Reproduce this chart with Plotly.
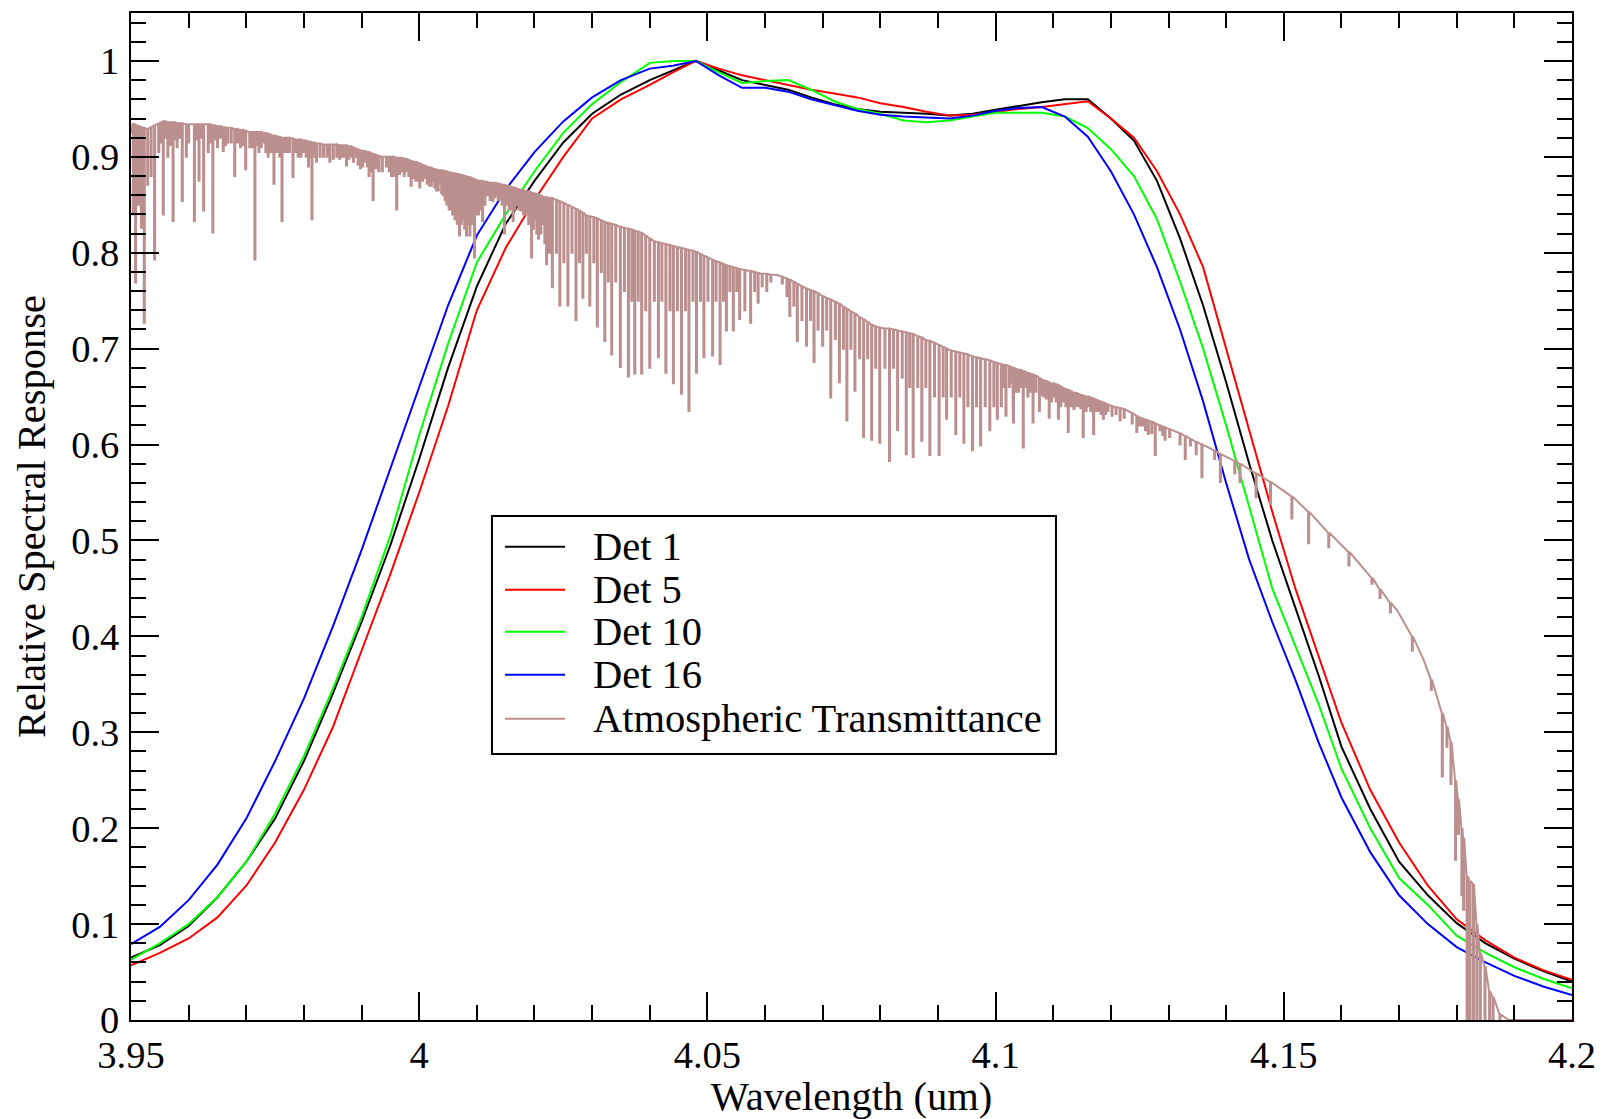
import plotly.graph_objects as go

# ---------------------------------------------------------------------------
# Detector relative spectral response curves (wavelength in um)
# ---------------------------------------------------------------------------
wavelength = [
    3.950, 3.955, 3.960, 3.965, 3.970, 3.975, 3.980, 3.985, 3.990, 3.995,
    4.000, 4.005, 4.010, 4.015, 4.020, 4.025, 4.030, 4.035, 4.040, 4.044,
    4.048, 4.052, 4.056, 4.060, 4.064, 4.068, 4.072, 4.076, 4.080, 4.084,
    4.088, 4.092, 4.096, 4.100, 4.104, 4.108, 4.112, 4.116, 4.120, 4.124,
    4.128, 4.132, 4.136, 4.140, 4.144, 4.148, 4.152, 4.156, 4.160, 4.165,
    4.170, 4.175, 4.180, 4.185, 4.190, 4.195, 4.200,
]

det1 = [
    0.065, 0.078, 0.098, 0.128, 0.165, 0.210, 0.270, 0.340, 0.415, 0.495,
    0.585, 0.680, 0.765, 0.830, 0.875, 0.915, 0.945, 0.965, 0.980, 0.990,
    1.000, 0.990, 0.980, 0.975, 0.970, 0.962, 0.955, 0.950, 0.947, 0.946,
    0.945, 0.943, 0.945, 0.949, 0.953, 0.957, 0.960, 0.960, 0.940, 0.917,
    0.875, 0.815, 0.745, 0.665, 0.580, 0.500, 0.430, 0.360, 0.285, 0.220,
    0.165, 0.130, 0.101, 0.080, 0.064, 0.051, 0.040,
]

det5 = [
    0.057, 0.070, 0.085, 0.107, 0.140, 0.185, 0.240, 0.305, 0.385, 0.465,
    0.550, 0.640, 0.740, 0.805, 0.855, 0.900, 0.940, 0.960, 0.975, 0.988,
    1.000, 0.992, 0.985, 0.980, 0.975, 0.970, 0.966, 0.962, 0.956, 0.952,
    0.947, 0.943, 0.944, 0.947, 0.950, 0.952, 0.955, 0.958, 0.940, 0.920,
    0.885, 0.840, 0.785, 0.700, 0.615, 0.530, 0.450, 0.380, 0.310, 0.240,
    0.185, 0.140, 0.105, 0.083, 0.065, 0.052, 0.042,
]

det10 = [
    0.063, 0.080, 0.100, 0.128, 0.165, 0.215, 0.275, 0.345, 0.420, 0.505,
    0.610, 0.705, 0.790, 0.840, 0.885, 0.925, 0.955, 0.978, 0.998, 1.000,
    1.000, 0.988, 0.977, 0.979, 0.980, 0.970, 0.958, 0.950, 0.945, 0.938,
    0.936, 0.938, 0.942, 0.946, 0.946, 0.946, 0.942, 0.930, 0.908, 0.880,
    0.835, 0.770, 0.700, 0.620, 0.535, 0.450, 0.390, 0.330, 0.262, 0.200,
    0.148, 0.120, 0.088, 0.070, 0.055, 0.043, 0.033,
]

det16 = [
    0.079, 0.097, 0.125, 0.162, 0.210, 0.270, 0.335, 0.410, 0.490, 0.575,
    0.660, 0.745, 0.818, 0.866, 0.905, 0.937, 0.962, 0.980, 0.992, 0.995,
    1.000, 0.985, 0.972, 0.972, 0.968, 0.960, 0.954, 0.948, 0.944, 0.942,
    0.941, 0.940, 0.943, 0.948, 0.951, 0.952, 0.942, 0.921, 0.885, 0.840,
    0.785, 0.720, 0.645, 0.560, 0.480, 0.415, 0.355, 0.290, 0.232, 0.175,
    0.130, 0.100, 0.076, 0.060, 0.046, 0.035, 0.026,
]

# ---------------------------------------------------------------------------
# Atmospheric transmittance: sample wavelength, continuum level there and the
# minimum reached by the absorption line at that wavelength
# ---------------------------------------------------------------------------
atm_wl = [
    3.9500, 3.9504, 3.9508, 3.9513, 3.9518, 3.9523, 3.9529, 3.9535, 3.9541, 3.9548,
    3.9556, 3.9564, 3.9573, 3.9580, 3.9589, 3.9596, 3.9610, 3.9618, 3.9626, 3.9634,
    3.9642, 3.9650, 3.9660, 3.9668, 3.9680, 3.9690, 3.9699, 3.9706, 3.9715, 3.9722,
    3.9730, 3.9738, 3.9748, 3.9755, 3.9762, 3.9770, 3.9781, 3.9790, 3.9800, 3.9808,
    3.9814, 3.9822, 3.9834, 3.9845, 3.9857, 3.9866, 3.9874, 3.9882, 3.9890, 3.9898,
    3.9906, 3.9913, 3.9920, 3.9930, 3.9943, 3.9952, 3.9961, 3.9970, 3.9978, 3.9986,
    3.9994, 4.0001, 4.0010, 4.0018, 4.0024, 4.0030, 4.0036, 4.0042, 4.0048, 4.0055,
    4.0062, 4.0070, 4.0076, 4.0082, 4.0088, 4.0096, 4.0103, 4.0110, 4.0118, 4.0128,
    4.0134, 4.0140, 4.0148, 4.0156, 4.0163, 4.0170, 4.0177, 4.0186, 4.0195, 4.0201,
    4.0207, 4.0214, 4.0221, 4.0231, 4.0238, 4.0244, 4.0251, 4.0258, 4.0265, 4.0272,
    4.0278, 4.0284, 4.0290, 4.0296, 4.0303, 4.0309, 4.0316, 4.0322, 4.0328, 4.0334,
    4.0341, 4.0349, 4.0356, 4.0363, 4.0369, 4.0374, 4.0380, 4.0386, 4.0393, 4.0400,
    4.0408, 4.0415, 4.0421, 4.0428, 4.0435, 4.0441, 4.0448, 4.0455, 4.0462, 4.0468,
    4.0475, 4.0481, 4.0488, 4.0494, 4.0501, 4.0509, 4.0515, 4.0522, 4.0528, 4.0533,
    4.0539, 4.0545, 4.0551, 4.0556, 4.0565, 4.0575, 4.0582, 4.0588, 4.0595, 4.0603,
    4.0610, 4.0620, 4.0630, 4.0638, 4.0643, 4.0650, 4.0656, 4.0664, 4.0672, 4.0679,
    4.0685, 4.0692, 4.0700, 4.0707, 4.0714, 4.0722, 4.0729, 4.0736, 4.0742, 4.0749,
    4.0756, 4.0764, 4.0771, 4.0778, 4.0785, 4.0792, 4.0799, 4.0808, 4.0816, 4.0823,
    4.0830, 4.0838, 4.0845, 4.0851, 4.0857, 4.0865, 4.0872, 4.0879, 4.0886, 4.0894,
    4.0902, 4.0909, 4.0915, 4.0923, 4.0931, 4.0938, 4.0945, 4.0952, 4.0960, 4.0967,
    4.0974, 4.0982, 4.0990, 4.0997, 4.1003, 4.1010, 4.1018, 4.1024, 4.1031, 4.1040,
    4.1048, 4.1056, 4.1065, 4.1070, 4.1076, 4.1084, 4.1093, 4.1100, 4.1109, 4.1118,
    4.1126, 4.1136, 4.1144, 4.1152, 4.1161, 4.1170, 4.1179, 4.1187, 4.1195, 4.1202,
    4.1209, 4.1216, 4.1230, 4.1245, 4.1255, 4.1265, 4.1277, 4.1285, 4.1294, 4.1310,
    4.1329, 4.1338, 4.1358, 4.1370, 4.1390, 4.1405, 4.1424, 4.1440, 4.1452, 4.1465,
    4.1477, 4.1495, 4.1514, 4.1528, 4.1543, 4.1560, 4.1578, 4.1598, 4.1613, 4.1630,
    4.1653, 4.1667, 4.1685, 4.1697, 4.1723, 4.1743, 4.1756, 4.1766, 4.1775, 4.1783,
    4.1790, 4.1798, 4.1803, 4.1809, 4.1812, 4.1818, 4.1823, 4.1829, 4.1835, 4.1841,
    4.1849, 4.1857, 4.1863, 4.1875, 4.1890, 4.2000,
]

atm_top = [
    0.925, 0.935, 0.933, 0.932, 0.931, 0.930, 0.929, 0.931, 0.933, 0.935,
    0.937, 0.936, 0.936, 0.935, 0.935, 0.934, 0.934, 0.934, 0.934, 0.934,
    0.933, 0.932, 0.931, 0.930, 0.929, 0.928, 0.927, 0.926, 0.926, 0.926,
    0.925, 0.924, 0.922, 0.921, 0.920, 0.920, 0.919, 0.918, 0.917, 0.916,
    0.915, 0.914, 0.913, 0.913, 0.913, 0.912, 0.912, 0.911, 0.909, 0.907,
    0.906, 0.905, 0.903, 0.901, 0.900, 0.900, 0.899, 0.899, 0.898, 0.896,
    0.895, 0.893, 0.891, 0.889, 0.888, 0.887, 0.886, 0.886, 0.885, 0.884,
    0.883, 0.882, 0.881, 0.880, 0.879, 0.877, 0.875, 0.875, 0.874, 0.873,
    0.873, 0.872, 0.871, 0.870, 0.868, 0.867, 0.866, 0.864, 0.863, 0.862,
    0.861, 0.859, 0.858, 0.857, 0.855, 0.854, 0.852, 0.850, 0.848, 0.846,
    0.844, 0.842, 0.839, 0.838, 0.837, 0.836, 0.834, 0.832, 0.831, 0.830,
    0.829, 0.827, 0.826, 0.825, 0.824, 0.823, 0.822, 0.821, 0.818, 0.815,
    0.812, 0.811, 0.810, 0.809, 0.808, 0.807, 0.806, 0.805, 0.804, 0.803,
    0.802, 0.801, 0.799, 0.797, 0.795, 0.793, 0.791, 0.790, 0.788, 0.787,
    0.786, 0.785, 0.784, 0.783, 0.782, 0.781, 0.780, 0.779, 0.778, 0.778,
    0.777, 0.777, 0.775, 0.773, 0.772, 0.770, 0.768, 0.765, 0.763, 0.761,
    0.760, 0.758, 0.755, 0.753, 0.751, 0.749, 0.747, 0.744, 0.742, 0.739,
    0.737, 0.733, 0.731, 0.728, 0.725, 0.723, 0.722, 0.721, 0.721, 0.720,
    0.719, 0.718, 0.717, 0.716, 0.715, 0.713, 0.712, 0.709, 0.708, 0.706,
    0.704, 0.702, 0.700, 0.698, 0.697, 0.696, 0.695, 0.694, 0.692, 0.691,
    0.690, 0.689, 0.688, 0.686, 0.685, 0.684, 0.683, 0.682, 0.680, 0.678,
    0.677, 0.675, 0.673, 0.672, 0.670, 0.667, 0.665, 0.664, 0.662, 0.659,
    0.657, 0.654, 0.653, 0.651, 0.650, 0.648, 0.646, 0.644, 0.642, 0.640,
    0.639, 0.638, 0.635, 0.630, 0.627, 0.625, 0.622, 0.620, 0.618, 0.614,
    0.609, 0.606, 0.600, 0.597, 0.590, 0.586, 0.580, 0.574, 0.570, 0.565,
    0.561, 0.554, 0.546, 0.538, 0.530, 0.519, 0.508, 0.497, 0.488, 0.477,
    0.461, 0.449, 0.435, 0.427, 0.400, 0.375, 0.355, 0.335, 0.320, 0.306,
    0.290, 0.250, 0.230, 0.200, 0.190, 0.150, 0.145, 0.142, 0.100, 0.070,
    0.056, 0.030, 0.024, 0.006, 0.000, 0.000,
]

atm_min = [
    0.925, 0.840, 0.769, 0.850, 0.826, 0.727, 0.871, 0.880, 0.793, 0.905,
    0.840, 0.900, 0.833, 0.910, 0.854, 0.900, 0.833, 0.875, 0.844, 0.905,
    0.821, 0.910, 0.906, 0.915, 0.880, 0.910, 0.887, 0.910, 0.793, 0.905,
    0.915, 0.900, 0.872, 0.905, 0.833, 0.905, 0.879, 0.900, 0.905, 0.890,
    0.835, 0.895, 0.900, 0.895, 0.900, 0.900, 0.891, 0.900, 0.900, 0.888,
    0.895, 0.880, 0.855, 0.885, 0.890, 0.880, 0.845, 0.885, 0.885, 0.870,
    0.875, 0.868, 0.878, 0.870, 0.875, 0.865, 0.872, 0.860, 0.850, 0.845,
    0.835, 0.818, 0.835, 0.818, 0.818, 0.795, 0.840, 0.833, 0.860, 0.854,
    0.860, 0.856, 0.820, 0.845, 0.833, 0.850, 0.844, 0.840, 0.795, 0.835,
    0.815, 0.830, 0.788, 0.764, 0.800, 0.745, 0.790, 0.745, 0.800, 0.730,
    0.790, 0.753, 0.800, 0.745, 0.790, 0.723, 0.780, 0.708, 0.770, 0.694,
    0.770, 0.681, 0.760, 0.671, 0.750, 0.674, 0.750, 0.674, 0.740, 0.680,
    0.750, 0.691, 0.750, 0.675, 0.740, 0.664, 0.740, 0.653, 0.740, 0.635,
    0.750, 0.675, 0.750, 0.691, 0.750, 0.693, 0.750, 0.684, 0.750, 0.719,
    0.760, 0.719, 0.760, 0.731, 0.740, 0.727, 0.760, 0.748, 0.765, 0.760,
    0.770, 0.777, 0.768, 0.755, 0.734, 0.745, 0.708, 0.730, 0.703, 0.730,
    0.686, 0.720, 0.703, 0.720, 0.649, 0.710, 0.665, 0.700, 0.625, 0.700,
    0.656, 0.690, 0.608, 0.690, 0.605, 0.680, 0.602, 0.680, 0.583, 0.680,
    0.615, 0.670, 0.590, 0.660, 0.587, 0.660, 0.604, 0.660, 0.589, 0.650,
    0.589, 0.650, 0.627, 0.650, 0.611, 0.650, 0.602, 0.640, 0.594, 0.640,
    0.599, 0.640, 0.615, 0.640, 0.627, 0.640, 0.630, 0.660, 0.623, 0.655,
    0.597, 0.650, 0.623, 0.655, 0.635, 0.650, 0.628, 0.650, 0.627, 0.645,
    0.613, 0.637, 0.640, 0.608, 0.640, 0.611, 0.635, 0.627, 0.635, 0.630,
    0.632, 0.625, 0.635, 0.613, 0.620, 0.611, 0.589, 0.615, 0.605, 0.614,
    0.585, 0.599, 0.566, 0.597, 0.561, 0.586, 0.561, 0.574, 0.545, 0.565,
    0.538, 0.554, 0.523, 0.538, 0.497, 0.519, 0.493, 0.497, 0.474, 0.477,
    0.455, 0.440, 0.425, 0.427, 0.385, 0.375, 0.344, 0.335, 0.254, 0.285,
    0.246, 0.167, 0.194, 0.130, 0.115, 0.000, 0.000, 0.000, 0.000, 0.000,
    0.000, 0.000, 0.000, 0.000, 0.000, 0.000,
]

# weaker absorption lines lying between the stronger ones above
weak_wl = [
    3.9552, 3.9560, 3.9568, 3.9577, 3.9585, 3.9600, 3.9614, 3.9622, 3.9638, 3.9646,
    3.9655, 3.9664, 3.9674, 3.9685, 3.9694, 3.9710, 3.9718, 3.9726, 3.9734, 3.9743,
    3.9752, 3.9758, 3.9766, 3.9775, 3.9786, 3.9795, 3.9804, 3.9811, 3.9818, 3.9828,
    3.9840, 3.9851, 3.9862, 3.9870, 3.9878, 3.9886, 3.9894, 3.9902, 3.9910, 3.9917,
    3.9925, 3.9936, 3.9948, 3.9956, 3.9966, 3.9974, 3.9982, 3.9990, 3.9998, 4.0006,
    4.0014, 4.0021, 4.0027, 4.0033, 4.0039, 4.0045, 4.0052, 4.0058, 4.0066, 4.0073,
    4.0079, 4.0085, 4.0092, 4.0099, 4.0107, 4.0114, 4.0123, 4.0131, 4.0137, 4.0144,
    4.0152, 4.0160, 4.0166, 4.0173, 4.0181, 4.0190, 4.0198, 4.0204, 4.0211, 4.0218,
    4.0226,
    4.1014, 4.1028, 4.1036, 4.1044, 4.1052, 4.1060, 4.1080, 4.1088, 4.1097, 4.1105,
    4.1113, 4.1122, 4.1131, 4.1140, 4.1148, 4.1157, 4.1165, 4.1175, 4.1183, 4.1191,
    4.1223, 4.1237, 4.1250, 4.1260, 4.1271, 4.1290, 4.1302, 4.1320, 4.1348, 4.1380,
    4.1415,
]

weak_top = [
    0.936, 0.937, 0.936, 0.936, 0.935, 0.934, 0.934, 0.934, 0.934, 0.933,
    0.932, 0.931, 0.930, 0.929, 0.928, 0.926, 0.926, 0.926, 0.925, 0.923,
    0.922, 0.921, 0.920, 0.920, 0.918, 0.918, 0.917, 0.916, 0.915, 0.914,
    0.913, 0.913, 0.912, 0.912, 0.911, 0.910, 0.908, 0.906, 0.905, 0.904,
    0.902, 0.900, 0.900, 0.900, 0.899, 0.898, 0.897, 0.895, 0.894, 0.892,
    0.890, 0.889, 0.887, 0.886, 0.886, 0.885, 0.884, 0.883, 0.882, 0.881,
    0.880, 0.879, 0.878, 0.876, 0.875, 0.874, 0.873, 0.873, 0.872, 0.871,
    0.870, 0.869, 0.868, 0.866, 0.865, 0.864, 0.862, 0.861, 0.860, 0.858,
    0.857,
    0.683, 0.681, 0.679, 0.678, 0.676, 0.674, 0.668, 0.666, 0.664, 0.663,
    0.661, 0.658, 0.656, 0.654, 0.652, 0.650, 0.649, 0.647, 0.645, 0.643,
    0.637, 0.633, 0.628, 0.626, 0.624, 0.619, 0.616, 0.612, 0.603, 0.594,
    0.583,
]

weak_min = [
    0.915, 0.920, 0.912, 0.918, 0.920, 0.915, 0.918, 0.920, 0.915, 0.918,
    0.920, 0.912, 0.915, 0.915, 0.912, 0.910, 0.912, 0.910, 0.905, 0.905,
    0.905, 0.900, 0.905, 0.905, 0.905, 0.900, 0.900, 0.900, 0.900, 0.900,
    0.900, 0.898, 0.898, 0.900, 0.898, 0.895, 0.892, 0.890, 0.890, 0.885,
    0.888, 0.885, 0.885, 0.880, 0.882, 0.880, 0.880, 0.878, 0.875, 0.875,
    0.872, 0.870, 0.868, 0.865, 0.862, 0.855, 0.845, 0.840, 0.830, 0.830,
    0.825, 0.830, 0.830, 0.840, 0.845, 0.850, 0.855, 0.858, 0.855, 0.850,
    0.850, 0.845, 0.845, 0.845, 0.840, 0.830, 0.825, 0.820, 0.820, 0.810,
    0.800,
    0.660, 0.665, 0.655, 0.660, 0.660, 0.655, 0.652, 0.648, 0.645, 0.645,
    0.640, 0.640, 0.640, 0.640, 0.638, 0.635, 0.635, 0.635, 0.632, 0.632,
    0.628, 0.622, 0.620, 0.615, 0.612, 0.610, 0.608, 0.600, 0.590, 0.585,
    0.570,
]

series_names = ["Det 1", "Det 5", "Det 10", "Det 16", "Atmospheric Transmittance"]
series_colors = ["#000000", "#ff0000", "#00ff00", "#0000ff", "#bc8f8f"]

x_ticks = [3.95, 4.0, 4.05, 4.1, 4.15, 4.2]

FONT = "Liberation Serif"
LINE_HALF_WIDTH = 0.00009  # half width (um) of the drawn absorption notch

fig = go.Figure()

for name, values, color in zip(series_names[:4], [det1, det5, det10, det16], series_colors[:4]):
    fig.add_trace(go.Scatter(
        x=wavelength, y=values, mode="lines", name=name,
        line=dict(color=color, width=2), showlegend=False,
    ))

# strong and weak lines in wavelength order; each absorption line is drawn
# as a narrow notch from the continuum down to its minimum
spectrum = sorted(list(zip(atm_wl, atm_top, atm_min)) + list(zip(weak_wl, weak_top, weak_min)))
atm_x, atm_y = [], []
for w, top, low in spectrum:
    if low < top:
        atm_x += [w - LINE_HALF_WIDTH, w - LINE_HALF_WIDTH, w + LINE_HALF_WIDTH, w + LINE_HALF_WIDTH]
        atm_y += [top, low, low, top]
    else:
        atm_x.append(w)
        atm_y.append(top)

fig.add_trace(go.Scatter(
    x=atm_x, y=atm_y, mode="lines", name=series_names[4],
    line=dict(color=series_colors[4], width=2), showlegend=False,
))

axis_style = dict(
    showgrid=False, zeroline=False, showline=True, linecolor="black", linewidth=2,
    mirror="allticks", ticks="inside", ticklen=28, tickwidth=2, tickcolor="black",
    tickfont=dict(family=FONT, size=38.5, color="black"),
)

fig.update_xaxes(
    range=[3.95, 4.2], tickmode="array", tickvals=x_ticks,
    ticktext=[f"{v:g}" for v in x_ticks],
    minor=dict(ticks="inside", ticklen=15, tickwidth=2, tickcolor="black", dtick=0.01, tick0=3.95),
    title=dict(text="Wavelength (um)", font=dict(family=FONT, size=40.5, color="black"), standoff=0),
    **axis_style,
)
fig.update_yaxes(
    range=[0, 1.05], tick0=0, dtick=0.1,
    minor=dict(ticks="inside", ticklen=15, tickwidth=2, tickcolor="black", dtick=0.02, tick0=0),
    title=dict(text="Relative Spectral Response", font=dict(family=FONT, size=40.5, color="black"), standoff=13),
    ticklabelstandoff=2,
    **axis_style,
)

# legend box drawn in paper coordinates
box_x0, box_x1, box_y0, box_y1 = 0.2505, 0.6419, 0.2641, 0.5005
sample_x0, sample_x1, text_x = 0.2595, 0.3012, 0.3195
row_y = [0.4700, 0.4273, 0.3856, 0.3429, 0.2992]

shapes = [dict(type="rect", xref="paper", yref="paper", x0=box_x0, x1=box_x1, y0=box_y0, y1=box_y1,
               line=dict(color="black", width=2), fillcolor="white", layer="above")]
annotations = []
for name, color, y in zip(series_names, series_colors, row_y):
    shapes.append(dict(type="line", xref="paper", yref="paper", x0=sample_x0, x1=sample_x1, y0=y, y1=y,
                       line=dict(color=color, width=2), layer="above"))
    annotations.append(dict(xref="paper", yref="paper", x=text_x, y=y, xanchor="left", yanchor="middle",
                            text=name, showarrow=False, font=dict(family=FONT, size=40.5, color="black")))

fig.update_layout(
    width=1603, height=1119,
    margin=dict(l=131, r=31, t=13, b=99, autoexpand=False),
    paper_bgcolor="white", plot_bgcolor="white",
    font=dict(family=FONT, color="black"),
    shapes=shapes, annotations=annotations, showlegend=False,
)

fig.write_html("out.html")
